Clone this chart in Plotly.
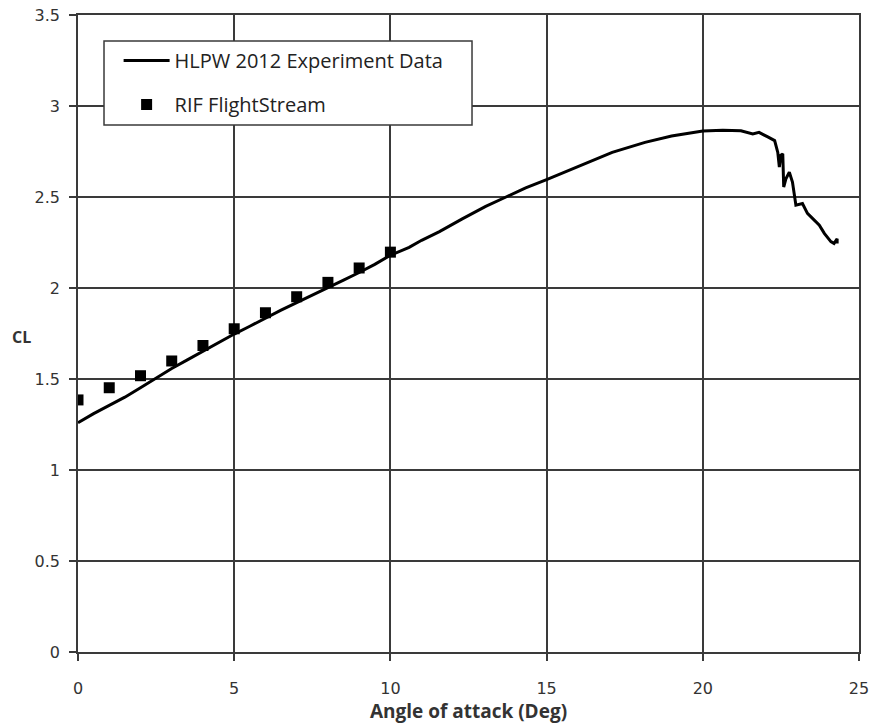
import plotly.graph_objects as go

# HLPW 2012 experiment
exp_aoa = [0.0, 0.5, 1.0, 1.5, 2.0, 2.5, 3.0, 3.5, 4.0, 4.5, 5.0, 5.5, 6.0, 6.5, 7.0,
           7.5, 8.0, 8.5, 9.0, 9.5, 10.0, 10.6, 11.0, 11.57, 12.3, 13.05, 13.7, 14.33,
           15.0, 16.05, 17.1, 18.15, 19.0, 19.65, 20.0, 20.64, 21.22, 21.6, 21.8, 22.08,
           22.3, 22.4, 22.45, 22.5, 22.56, 22.59, 22.66, 22.77, 22.87, 22.98, 23.19,
           23.35, 23.73, 23.89, 24.1, 24.2, 24.3, 24.3]
exp_cl = [1.26, 1.31, 1.355, 1.40, 1.452, 1.505, 1.558, 1.605, 1.653, 1.70, 1.747, 1.79,
          1.835, 1.878, 1.92, 1.96, 2.0, 2.043, 2.085, 2.13, 2.18, 2.223, 2.262, 2.31,
          2.38, 2.448, 2.50, 2.55, 2.596, 2.672, 2.745, 2.80, 2.835, 2.853, 2.863,
          2.867, 2.864, 2.846, 2.855, 2.83, 2.81, 2.745, 2.664, 2.73, 2.737, 2.555,
          2.60, 2.636, 2.582, 2.455, 2.464, 2.41, 2.345, 2.30, 2.255, 2.245, 2.27, 2.245]

# RIF FlightStream results
fs_aoa = [0, 1, 2, 3, 4, 5, 6, 7, 8, 9, 10]
fs_cl = [1.385, 1.452, 1.518, 1.599, 1.684, 1.776, 1.864, 1.952, 2.031, 2.11, 2.197]

x_ticks = [0, 5, 10, 15, 20, 25]
y_ticks = [0, 0.5, 1, 1.5, 2, 2.5, 3, 3.5]

fig = go.Figure()

fig.add_trace(go.Scatter(
    x=exp_aoa, y=exp_cl, mode='lines', name='HLPW 2012 Experiment Data',
    line=dict(color='black', width=3), legendgroup='a'))

fig.add_trace(go.Scatter(
    x=fs_aoa, y=fs_cl, mode='markers', name='RIF FlightStream',
    marker=dict(symbol='square', size=11, color='black'), legendgroup='b'))

axis_style = dict(
    showgrid=True, gridcolor='#3a3a3a', gridwidth=1.5,
    showline=True, linecolor='#3a3a3a', linewidth=1.5, mirror=True,
    ticks='outside', ticklen=7, tickcolor='#3a3a3a', tickwidth=1.5,
    zeroline=False, automargin=False, ticklabeloverflow='allow',
    tickfont=dict(family='DejaVu Sans', size=16, color='#333333'),
)

fig.update_layout(
    width=878, height=728,
    margin=dict(l=78, r=19, t=15, b=76),
    paper_bgcolor='white', plot_bgcolor='white',
    xaxis=dict(range=[0, 25], tickvals=x_ticks, ticklabelstandoff=14,
               title=dict(text='<b>Angle of attack (Deg)</b>', standoff=6,
                          font=dict(family='Open Sans', size=19, color='#333333')),
               **axis_style),
    yaxis=dict(range=[0, 3.5], tickvals=y_ticks, tickformat='.1~f',
               ticklabelstandoff=6, **axis_style),
    legend=dict(x=0.052, y=0.959, xanchor='left', yanchor='top',
                bgcolor='rgba(0,0,0,0)', borderwidth=0,
                font=dict(family='Open Sans', size=20, color='#222222'),
                tracegroupgap=15, traceorder='grouped', itemwidth=46),
    showlegend=True,
)

# legend frame, wider than plotly's own box
fig.add_shape(type='rect', xref='paper', yref='paper',
              x0=0.0333, x1=0.5045, y0=0.8273, y1=0.959, layer='above',
              fillcolor='white', line=dict(color='#3a3a3a', width=1.5))

# horizontal CL label left of the axis, as in the original
fig.add_annotation(text='<b>CL</b>', xref='paper', yref='y', x=-0.072, y=1.73,
                   showarrow=False, xanchor='center',
                   font=dict(family='Open Sans', size=16, color='#333333'))

# drop the page's default 8px body margin so the figure fills the window
fig.write_html("out.html", config={'displayModeBar': False},
               post_script="document.body.style.margin='0';")
